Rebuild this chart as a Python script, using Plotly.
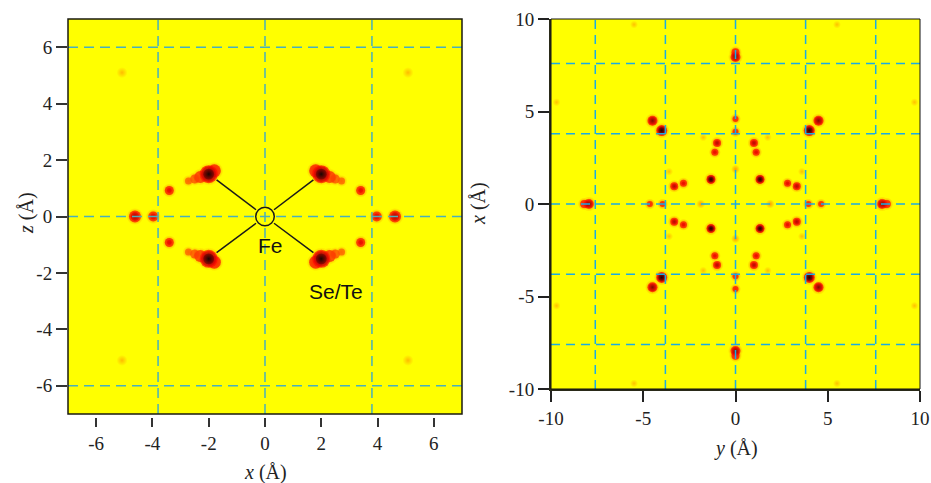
import plotly.graph_objects as go

# ---------------- data ----------------
# Left panel (x-z plane): blob positions, marker diameter (px) and intensity level (0..1)
left_x = [-2.0, 2.0, -2.0, 2.0,
          -1.8, 1.8, -1.8, 1.8,
          -2.3, 2.3, -2.3, 2.3,
          -2.5, 2.5, -2.5, 2.5,
          -2.72, 2.72, -2.72, 2.72,
          -3.4, 3.4, -3.4, 3.4,
          -4.62, 4.62, -3.97, 3.97,
          -5.08, 5.08, -5.08, 5.08]
left_z = [1.5, 1.5, -1.5, -1.5,
          1.62, 1.62, -1.62, -1.62,
          1.4, 1.4, -1.4, -1.4,
          1.33, 1.33, -1.33, -1.33,
          1.26, 1.26, -1.26, -1.26,
          0.92, 0.92, -0.92, -0.92,
          0.0, 0.0, 0.0, 0.0,
          5.1, 5.1, -5.1, -5.1]
left_size = [18, 18, 18, 18,
             13, 13, 13, 13,
             12, 12, 12, 12,
             9, 9, 9, 9,
             7, 7, 7, 7,
             9, 9, 9, 9,
             12, 12, 10, 10,
             6, 6, 6, 6]
left_level = [0.97, 0.97, 0.97, 0.97,
              0.6, 0.6, 0.6, 0.6,
              0.56, 0.56, 0.56, 0.56,
              0.48, 0.48, 0.48, 0.48,
              0.43, 0.43, 0.43, 0.43,
              0.66, 0.66, 0.66, 0.66,
              0.84, 0.84, 0.7, 0.7,
              0.3, 0.3, 0.3, 0.3]

# Right panel (y-x plane)
right_y = [0.0, 0.0, 0.0, 0.0, -7.95, 7.95, -8.2, 8.2,
           -4.5, 4.5, -4.5, 4.5,
           -4.0, 4.0, -4.0, 4.0,
           0.0, 0.0, 0.0, 0.0, -4.64, 4.64, -3.95, 3.95,
           0.0, 0.0, -1.88, 1.88,
           -1.33, 1.33, -1.33, 1.33,
           -1.0, 1.0, -1.0, 1.0, -3.32, 3.32, -3.32, 3.32,
           -1.12, 1.12, -1.12, 1.12, -2.82, 2.82, -2.82, 2.82,
           -1.75, 1.75, -1.75, 1.75, -3.6, 3.6, -3.6, 3.6,
           -5.5, 5.5, -5.5, 5.5, -9.7, 9.7, -9.7, 9.7]
right_x = [7.95, -7.95, 8.2, -8.2, 0.0, 0.0, 0.0, 0.0,
           4.5, 4.5, -4.5, -4.5,
           3.97, 3.97, -3.97, -3.97,
           4.6, -4.6, 3.9, -3.9, 0.0, 0.0, 0.0, 0.0,
           1.88, -1.88, 0.0, 0.0,
           1.33, 1.33, -1.33, -1.33,
           3.3, 3.3, -3.3, -3.3, 0.96, 0.96, -0.96, -0.96,
           2.8, 2.8, -2.8, -2.8, 1.12, 1.12, -1.12, -1.12,
           3.6, 3.6, -3.6, -3.6, 1.75, 1.75, -1.75, -1.75,
           9.7, 9.7, -9.7, -9.7, 5.5, 5.5, -5.5, -5.5]
right_size = [10, 10, 8, 8, 10, 10, 8, 8,
              10, 10, 10, 10,
              11, 11, 11, 11,
              6, 6, 6, 6, 6, 6, 6, 6,
              4, 4, 4, 4,
              9, 9, 9, 9,
              8, 8, 8, 8, 8, 8, 8, 8,
              7, 7, 7, 7, 7, 7, 7, 7,
              3, 3, 3, 3, 3, 3, 3, 3,
              3, 3, 3, 3, 3, 3, 3, 3]
right_level = [0.9, 0.9, 0.6, 0.6, 0.9, 0.9, 0.6, 0.6,
               0.9, 0.9, 0.9, 0.9,
               0.96, 0.96, 0.96, 0.96,
               0.58, 0.58, 0.58, 0.58, 0.58, 0.58, 0.58, 0.58,
               0.4, 0.4, 0.4, 0.4,
               1.0, 1.0, 1.0, 1.0,
               0.8, 0.8, 0.8, 0.8, 0.8, 0.8, 0.8, 0.8,
               0.66, 0.66, 0.66, 0.66, 0.66, 0.66, 0.66, 0.66,
               0.28, 0.28, 0.28, 0.28, 0.28, 0.28, 0.28, 0.28,
               0.28, 0.28, 0.28, 0.28, 0.28, 0.28, 0.28, 0.28]

# grid (dashed guide) positions
left_grid_x = [-3.8, 0.0, 3.8]
left_grid_z = [-6.0, 0.0, 6.0]
right_grid_y = [-7.6, -3.8, 0.0, 3.8, 7.6]
right_grid_x = [-7.6, -3.8, 0.0, 3.8, 7.6]

left_ticks = [-6, -4, -2, 0, 2, 4, 6]
left_ticktext = ["-6", "-4", "-2", "0", "2", "4", "6"]
right_ticks = [-10, -5, 0, 5, 10]
right_ticktext = ["-10", "-5", "0", "5", "10"]

# Fe - Se/Te bonds (left panel)
bond_x0 = [-0.32, 0.32, -0.32, 0.32]
bond_z0 = [0.24, 0.24, -0.24, -0.24]
bond_x1 = [-1.72, 1.72, -1.72, 1.72]
bond_z1 = [1.30, 1.30, -1.28, -1.28]
fe_radius = 0.33
labels = ["Fe", "Se/Te"]
label_x = [0.18, 2.53]
label_z = [-1.04, -2.65]

# ---------------- colours ----------------
STOPS = [(0.0, (255, 255, 0)), (0.3, (255, 150, 0)), (0.6, (250, 10, 0)),
         (0.85, (120, 0, 0)), (1.0, (0, 0, 0))]


def cmap(v):
    v = max(0.0, min(1.0, v))
    for (a, ca), (b, cb) in zip(STOPS[:-1], STOPS[1:]):
        if a <= v <= b:
            t = (v - a) / (b - a)
            c = [round(ca[i] + t * (cb[i] - ca[i])) for i in range(3)]
            return "rgb(%d,%d,%d)" % tuple(c)
    return "rgb(0,0,0)"


def blob_traces(xs, ys, sizes, levels, xa, ya):
    traces = []
    # soft halo: yellow edge -> coloured centre
    traces.append(go.Scatter(
        x=xs, y=ys, mode="markers", xaxis=xa, yaxis=ya, hoverinfo="skip",
        marker=dict(size=[s + 5 for s in sizes], color="#ffff00", line=dict(width=0),
                    gradient=dict(type="radial",
                                  color=[cmap(min(l, 0.6) * 0.92) for l in levels])),
        showlegend=False))
    # body
    ib = [i for i, l in enumerate(levels) if l >= 0.42]
    traces.append(go.Scatter(
        x=[xs[i] for i in ib], y=[ys[i] for i in ib], mode="markers",
        xaxis=xa, yaxis=ya, hoverinfo="skip",
        marker=dict(size=[sizes[i] for i in ib], line=dict(width=0),
                    color=[cmap(min(levels[i], 0.6)) for i in ib]),
        showlegend=False))
    # dark core, larger for stronger blobs
    ic = [i for i, l in enumerate(levels) if l > 0.62]
    traces.append(go.Scatter(
        x=[xs[i] for i in ic], y=[ys[i] for i in ic], mode="markers",
        xaxis=xa, yaxis=ya, hoverinfo="skip",
        marker=dict(size=[sizes[i] * (0.5 + 0.4 * (levels[i] - 0.62) / 0.38) for i in ic],
                    color=cmap(0.62), line=dict(width=0),
                    gradient=dict(type="radial", color=[cmap(levels[i]) for i in ic])),
        showlegend=False))
    # blackish centre for the strongest blobs
    ik = [i for i, l in enumerate(levels) if l > 0.9]
    traces.append(go.Scatter(
        x=[xs[i] for i in ik], y=[ys[i] for i in ik], mode="markers",
        xaxis=xa, yaxis=ya, hoverinfo="skip",
        marker=dict(size=[sizes[i] * 0.6 for i in ik], color=cmap(0.84),
                    line=dict(width=0),
                    gradient=dict(type="radial", color="rgb(0,0,0)")),
        showlegend=False))
    return traces


fig = go.Figure()
for t in blob_traces(left_x, left_z, left_size, left_level, "x", "y"):
    fig.add_trace(t)
for t in blob_traces(right_y, right_x, right_size, right_level, "x2", "y2"):
    fig.add_trace(t)

shapes = []
LC = "#48b0bc"
RC = "#1aace4"
for g in left_grid_x:
    shapes.append(dict(type="line", xref="x", yref="y domain", x0=g, x1=g, y0=0, y1=1,
                       line=dict(color=LC, width=1.5, dash="10px,6px")))
for g in left_grid_z:
    shapes.append(dict(type="line", xref="x domain", yref="y", x0=0, x1=1, y0=g, y1=g,
                       line=dict(color=LC, width=1.5, dash="10px,6px")))
for g in right_grid_y:
    shapes.append(dict(type="line", xref="x2", yref="y2 domain", x0=g, x1=g, y0=0, y1=1,
                       line=dict(color=RC, width=1.5, dash="9px,6px")))
for g in right_grid_x:
    shapes.append(dict(type="line", xref="x2 domain", yref="y2", x0=0, x1=1, y0=g, y1=g,
                       line=dict(color=RC, width=1.5, dash="9px,6px")))
# frames
shapes.append(dict(type="rect", xref="x domain", yref="y domain", x0=0, x1=1, y0=0, y1=1,
                   line=dict(color="#1a1a10", width=1.5)))
shapes.append(dict(type="rect", xref="x2 domain", yref="y2 domain", x0=0, x1=1, y0=0, y1=1,
                   line=dict(color="#111111", width=1)))
# Fe circle and bonds
shapes.append(dict(type="circle", xref="x", yref="y", x0=-fe_radius, x1=fe_radius,
                   y0=-fe_radius, y1=fe_radius, line=dict(color="#1a1a1a", width=1.5)))
for a, b, c, d in zip(bond_x0, bond_z0, bond_x1, bond_z1):
    shapes.append(dict(type="line", xref="x", yref="y", x0=a, y0=b, x1=c, y1=d,
                       line=dict(color="#1a1a1a", width=1.5)))

W, H = 931, 483
SERIF = "Liberation Serif, Times New Roman, serif"
tickfont = dict(family=SERIF, size=19, color="#222222")

annotations = []
for t, x, z in zip(labels, label_x, label_z):
    annotations.append(dict(text=t, x=x, y=z, xref="x", yref="y", showarrow=False,
                            font=dict(family="Liberation Sans, Arial, sans-serif",
                                      size=21, color="#111111")))
title_font = dict(family=SERIF, size=20, color="#222222")
annotations += [
    dict(text="<i>x</i> (Å)", x=265.5 / W, y=1 - 472 / H, xref="paper", yref="paper",
         showarrow=False, font=title_font, xanchor="center", yanchor="middle"),
    dict(text="<i>z</i> (Å)", x=26 / W, y=1 - 213 / H, xref="paper", yref="paper",
         showarrow=False, font=title_font, textangle=-90, xanchor="center", yanchor="middle"),
    dict(text="<i>y</i> (Å)", x=735.6 / W, y=1 - 448 / H, xref="paper", yref="paper",
         showarrow=False, font=title_font, xanchor="center", yanchor="middle"),
    dict(text="<i>x</i> (Å)", x=478 / W, y=1 - 204 / H, xref="paper", yref="paper",
         showarrow=False, font=title_font, textangle=-90, xanchor="center", yanchor="middle"),
]

fig.update_layout(
    width=W, height=H, margin=dict(l=0, r=0, t=0, b=0, autoexpand=False),
    paper_bgcolor="white", plot_bgcolor="#ffff00",
    showlegend=False, shapes=shapes, annotations=annotations,
    xaxis=dict(domain=[68 / W, 462 / W], range=[-7, 7], anchor="free",
               position=1 - 417 / H, showline=False, showgrid=False, zeroline=False,
               automargin=False,
               ticks="outside", ticklen=9, tickwidth=1.5, tickcolor="#333333",
               tickvals=left_ticks, ticktext=left_ticktext, tickfont=tickfont),
    yaxis=dict(domain=[1 - 414 / H, 1 - 19 / H], range=[-7, 7], anchor="x",
               showline=False, showgrid=False, zeroline=False, automargin=False,
               ticks="outside", ticklen=11, tickwidth=1.5, tickcolor="#333333",
               tickvals=left_ticks, ticktext=left_ticktext, tickfont=tickfont),
    xaxis2=dict(domain=[551 / W, 920 / W], range=[-10, 10], anchor="y2",
                showline=True, linewidth=2, linecolor="#2a2a18", showgrid=False,
                zeroline=False, automargin=False, ticks="outside", ticklen=11, tickwidth=1.5,
                tickcolor="#222222", tickvals=right_ticks, ticktext=right_ticktext,
                tickfont=tickfont),
    yaxis2=dict(domain=[1 - 389 / H, 1 - 19 / H], range=[-10, 10], anchor="x2",
                showline=True, linewidth=2, linecolor="#2a2a18", showgrid=False,
                zeroline=False, automargin=False, ticks="outside", ticklen=11, tickwidth=1.5,
                tickcolor="#222222", tickvals=right_ticks, ticktext=right_ticktext,
                tickfont=tickfont),
)

fig.write_html("out.html", config={"displayModeBar": False},
               post_script="document.body.style.margin='0px';"
                           "document.body.style.overflow='hidden';")
